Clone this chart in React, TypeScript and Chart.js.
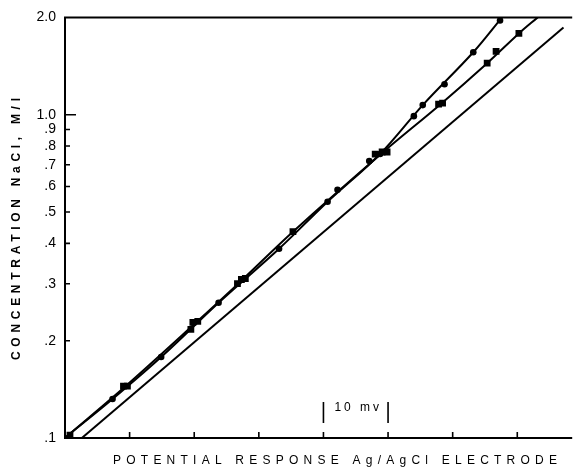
import React, { useEffect, useRef } from "react";
import { Chart, registerables } from "chart.js";

Chart.register(...registerables);

// Measured points, curve with round markers (mV, mol/l)
const circleX = [7.36, 14.88, 23.77, 33.13, 40.64, 42.18, 47.09, 48.77, 53.99, 55.37, 58.74, 63.19, 67.33];
const circleY = [0.132, 0.178, 0.262, 0.385, 0.538, 0.586, 0.719, 0.756, 0.99, 1.071, 1.243, 1.56, 1.957];

// Measured points, curve with square markers
const squareX = [0.77, 9.05, 9.66, 19.48, 19.79, 20.55, 26.69, 27.3, 27.91, 35.28, 48.01, 49.08, 49.85, 57.82, 58.44, 65.34, 66.72, 70.25];
const squareY = [0.1021, 0.1446, 0.1446, 0.2168, 0.2278, 0.2294, 0.3005, 0.3092, 0.3114, 0.4346, 0.7558, 0.7667, 0.7667, 1.078, 1.086, 1.443, 1.57, 1.784];

// Fitted curve through round markers
const curveAX = [0.15, 7.36, 14.88, 23.77, 33.13, 40.64, 48.77, 55.37, 63.19, 67.64];
const curveAY = [0.1007, 0.132, 0.178, 0.262, 0.385, 0.538, 0.756, 1.071, 1.56, 2.0];

// Fitted curve through square markers
const curveBX = [0.15, 9.36, 19.94, 27.3, 35.28, 49.08, 58.13, 65.34, 70.25, 73.16];
const curveBY = [0.1007, 0.1446, 0.2244, 0.3067, 0.4345, 0.7614, 1.078, 1.443, 1.784, 2.0];

// Theoretical (straight) response line
const lineCX = [2.61, 77.15];
const lineCY = [0.1, 1.862];

// Axis ticks
const yTickValues = [0.1, 0.2, 0.3, 0.4, 0.5, 0.6, 0.7, 0.8, 0.9, 1.0, 2.0];
const yTickLabels = [".1", ".2", ".3", ".4", ".5", ".6", ".7", ".8", ".9", "1.0", "2.0"];
const xTickValues = [10, 20, 30, 40, 50, 60, 70];
const xMin = 0;
const xMax = 78.5;

const scaleBarFrom = 40;
const scaleBarTo = 50;
const scaleBarLabel = "10 mv";

const xTitle = "POTENTIAL RESPONSE Ag/AgCl ELECTRODE";
const yTitle = "CONCENTRATION NaCl, M/l";

const zip = (xs: number[], ys: number[]) => xs.map((x, i) => ({ x, y: ys[i] }));

function drawSpaced(ctx: CanvasRenderingContext2D, text: string, width: number) {
  (ctx as any).letterSpacing = "0px";
  const base = ctx.measureText(text).width;
  const sp = (width - base) / Math.max(1, text.length - 1);
  (ctx as any).letterSpacing = sp + "px";
  ctx.textAlign = "left";
  ctx.textBaseline = "middle";
  ctx.fillText(text, 0, 0);
  (ctx as any).letterSpacing = "0px";
}

const framePlugin = {
  id: "frame",
  afterDraw(chart: any) {
    const { ctx, chartArea: a, scales } = chart;
    const xs = scales.x;
    const ys = scales.y;
    ctx.save();
    ctx.strokeStyle = "#000";
    ctx.fillStyle = "#000";
    ctx.lineWidth = 2;
    ctx.beginPath();
    ctx.moveTo(a.left, a.top);
    ctx.lineTo(a.right, a.top);
    ctx.moveTo(a.left, a.top - 1);
    ctx.lineTo(a.left, a.bottom + 1);
    ctx.moveTo(a.left, a.bottom);
    ctx.lineTo(a.right, a.bottom);
    ctx.stroke();

    ctx.lineWidth = 1.6;
    ctx.beginPath();
    yTickValues.forEach((v) => {
      if (v >= 2 || v <= 0.1) return;
      const py = ys.getPixelForValue(v);
      const len = v === 1 ? 11 : 5;
      ctx.moveTo(a.left, py);
      ctx.lineTo(a.left + len, py);
    });
    xTickValues.forEach((v) => {
      const px = xs.getPixelForValue(v);
      ctx.moveTo(px, a.bottom);
      ctx.lineTo(px, a.bottom - 6);
    });
    // scale bar
    const b1 = xs.getPixelForValue(scaleBarFrom);
    const b2 = xs.getPixelForValue(scaleBarTo);
    ctx.moveTo(b1, a.bottom - 36);
    ctx.lineTo(b1, a.bottom - 15);
    ctx.moveTo(b2, a.bottom - 36);
    ctx.lineTo(b2, a.bottom - 15);
    ctx.stroke();

    ctx.font = "12px 'Liberation Sans', Arial, sans-serif";
    ctx.save();
    ctx.translate(b1 + 11, a.bottom - 30);
    drawSpaced(ctx, scaleBarLabel, b2 - b1 - 20);
    ctx.restore();

    // x title
    ctx.font = "12px 'Liberation Sans', Arial, sans-serif";
    ctx.save();
    ctx.translate(113, 461);
    drawSpaced(ctx, xTitle, 444);
    ctx.restore();

    // y title
    ctx.font = "bold 12px 'Liberation Sans', Arial, sans-serif";
    ctx.save();
    ctx.translate(17, 360);
    ctx.rotate(-Math.PI / 2);
    drawSpaced(ctx, yTitle, 262);
    ctx.restore();

    ctx.restore();
  },
};

export default function App() {
  const ref = useRef<HTMLCanvasElement | null>(null);
  useEffect(() => {
    if (!ref.current) return;
    const lineStyle = {
      showLine: true,
      borderColor: "#000",
      borderWidth: 2,
      pointRadius: 0,
      pointHoverRadius: 0,
      fill: false,
      tension: 0.35,
    };
    const chart = new Chart(ref.current, {
      type: "scatter",
      data: {
        datasets: [
          { ...lineStyle, label: "curve A", data: zip(curveAX, curveAY), order: 3 },
          { ...lineStyle, label: "curve B", data: zip(curveBX, curveBY), order: 3 },
          { ...lineStyle, label: "line C", data: zip(lineCX, lineCY), tension: 0, order: 3 },
          {
            label: "circles",
            data: zip(circleX, circleY),
            showLine: false,
            pointStyle: "circle",
            pointRadius: 3.3,
            backgroundColor: "#000",
            borderColor: "#000",
            borderWidth: 0,
            order: 1,
          },
          {
            label: "squares",
            data: zip(squareX, squareY),
            showLine: false,
            pointStyle: "rect",
            pointRadius: 4.8,
            backgroundColor: "#000",
            borderColor: "#000",
            borderWidth: 0,
            order: 1,
          },
        ],
      },
      options: {
        animation: false,
        responsive: false,
        devicePixelRatio: 1,
        layout: { padding: { left: 0, right: 0, top: 16, bottom: 0 } },
        plugins: { legend: { display: false }, tooltip: { enabled: false } },
        events: [],
        scales: {
          x: {
            type: "linear",
            min: xMin,
            max: xMax,
            grid: { display: false, drawTicks: false },
            border: { display: false },
            ticks: { display: false },
            afterFit: (s: any) => {
              s.height = 31;
            },
          },
          y: {
            type: "logarithmic",
            min: 0.1,
            max: 2.0,
            grid: { display: false, drawTicks: false },
            border: { display: false },
            afterBuildTicks: (s: any) => {
              s.ticks = yTickValues.map((v) => ({ value: v }));
            },
            ticks: {
              color: "#000",
              padding: 9,
              autoSkip: false,
              font: { family: "'Liberation Sans', Arial, sans-serif", size: 14 },
              callback: (v: any) => {
                const i = yTickValues.findIndex((t) => Math.abs(t - Number(v)) < 1e-9);
                return i >= 0 ? yTickLabels[i] : "";
              },
            },
            afterFit: (s: any) => {
              s.width = 65;
            },
          },
        },
      },
      plugins: [framePlugin],
    });
    return () => chart.destroy();
  }, []);
  return (
    <div style={{ position: "absolute", left: 0, top: 0, width: 577, height: 469, background: "#fff" }}>
      <canvas ref={ref} width={577} height={469} style={{ display: "block" }} />
    </div>
  );
}
